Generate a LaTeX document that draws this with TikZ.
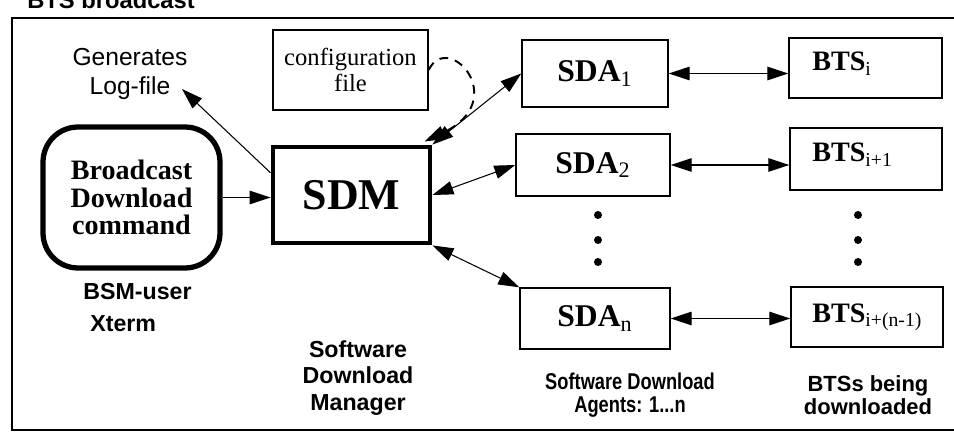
\documentclass[tikz,border=0pt]{standalone}
\usepackage{fontspec}
\setmainfont{Liberation Serif}
\setsansfont{Liberation Sans}
\usetikzlibrary{arrows.meta,calc}
\tikzset{
  box/.style={draw, line width=0.8pt, inner sep=0pt},
  big/.style={-{Triangle[length=0.42cm,width=0.27cm]}, line width=0.6pt},
  bi/.style={{Triangle[length=0.42cm,width=0.27cm]}-{Triangle[length=0.42cm,width=0.27cm]}, line width=0.6pt},
  lab/.style={font=\sffamily\fontsize{14pt}{16pt}\selectfont, align=center, inner sep=0pt},
  blab/.style={font=\sffamily\bfseries\fontsize{13.2pt}{15pt}\selectfont, align=center, inner sep=0pt},
  sdatext/.style={font=\bfseries\fontsize{18pt}{20pt}\selectfont},
  btstext/.style={font=\bfseries\fontsize{16pt}{18pt}\selectfont, inner sep=0pt},
  dot/.style={fill, circle, inner sep=0pt, minimum size=0.16cm}
}
\newcommand{\lsub}[1]{\textsubscript{\mdseries #1}}
\begin{document}
\begin{tikzpicture}[x=0.02cm, y=-0.02cm]
\useasboundingbox (0,0) rectangle (954,439);
% frame
\draw[line width=1.7pt] (970,18) -- (12,18) -- (12,430) -- (970,430);
\node[anchor=base west, font=\sffamily\bfseries\fontsize{13.5pt}{15pt}\selectfont, inner sep=0pt] (title) at (27,9) {BTS broadcast};

% boxes
\node[box, minimum width=3.1cm, minimum height=1.6cm, align=center,
      font=\fontsize{14pt}{15pt}\selectfont] (cfg) at (350.5,70) {configuration\\file};
\node[draw, line width=3pt, rounded corners=0.7cm, minimum width=3.54cm, minimum height=2.82cm,
      align=center, font=\bfseries\fontsize{16pt}{15.5pt}\selectfont] (cmd) at (131.5,197.5) {Broadcast\\Download\\command};
\node[draw, line width=2.8pt, inner sep=0pt, minimum width=3.14cm, minimum height=1.92cm,
      font=\bfseries\fontsize{25pt}{26pt}\selectfont] (sdm) at (351.5,195) {SDM};

\node[box, sdatext, minimum width=2.92cm, minimum height=1.34cm] (sda1) at (595,73.5) {SDA\lsub{1}};
\node[box, sdatext, minimum width=3.08cm, minimum height=1.24cm] (sda2) at (593,165) {SDA\lsub{2}};
\node[box, sdatext, minimum width=3.0cm, minimum height=1.22cm] (sdan) at (595,318.5) {SDA\lsub{n}};

\node[box, minimum width=3.06cm, minimum height=1.2cm] (btsi) at (865.5,68) {};
\node[box, minimum width=3.04cm, minimum height=1.24cm] (btsi1) at (866,159) {};
\node[box, minimum width=3.04cm, minimum height=1.2cm] (btsn) at (867,317) {};
\node[btstext, anchor=base west] (tbtsi) at (812,71) {BTS\lsub{i}};
\node[btstext, anchor=base west] (tbtsi1) at (812,162) {BTS\lsub{i+1}};
\node[btstext, anchor=base west] (tbtsn) at (812,322) {BTS\lsub{i+(n-1)}};

% dots
\node[dot] (d1) at (598,215) {};
\node[dot] (d2) at (598,240) {};
\node[dot] (d3) at (598,262) {};
\node[dot] (e1) at (858,215) {};
\node[dot] (e2) at (858,240) {};
\node[dot] (e3) at (858,262) {};

% labels
\node[lab] (gen) at (130,74) {Generates\\Log-file};
\coordinate (logtip) at (182,89);
\node[blab, anchor=base west] (bsm) at (83,299) {BSM-user};
\node[blab, anchor=base west] (xterm) at (90,331) {Xterm};
\node[blab] (sdmlab) at (358,378) {Software\\Download\\Manager};
\node[blab, xscale=0.8, font=\sffamily\bfseries\fontsize{13pt}{13pt}\selectfont] (sdalab) at (630,395) {Software Download\\Agents: 1...n};
\node[blab, font=\sffamily\bfseries\fontsize{12.5pt}{13pt}\selectfont] (btslab) at (868,395) {BTSs being\\downloaded};

% connectors
\coordinate (sdmlog) at ($(sdm.north west)!0.28!(sdm.south west)$);
\draw[big] (sdmlog) -- (logtip);
\draw[big] (cmd.east) -- (cmd.east -| sdm.west);
\coordinate (cfgtip) at ($(sdm.north east)+(-8,-3)$);
\draw[big, dash pattern=on 5pt off 4pt, line width=1.1pt] (cfg.east) .. controls (448,30) and (512,100) .. (cfgtip);
\draw[bi] (sdm.north east) -- (sda1.west);
\draw[bi] (sdm.east) -- (sda2.west);
\draw[bi] (sdm.south east) -- (sdan.north west);
\draw[bi] (sda1.east) -- (sda1.east -| btsi.west);
\draw[bi] (sda2.east) -- (sda2.east -| btsi1.west);
\draw[bi] (sdan.east) -- (sdan.east -| btsn.west);
\end{tikzpicture}
\end{document}
